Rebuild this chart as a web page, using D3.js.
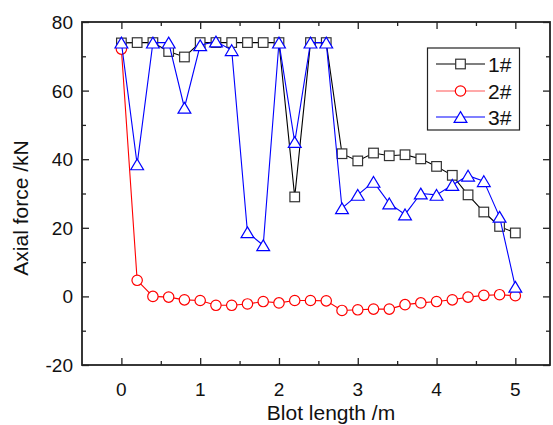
<!DOCTYPE html>
<html><head><meta charset="utf-8">
<script src="https://cdn.jsdelivr.net/npm/d3@7"></script>
<style>body{margin:0;background:#fff}svg{display:block;font-family:"Liberation Sans",Arial,sans-serif}</style>
</head><body><svg id="c" width="553" height="425"></svg>
<script>
const xs = [0,0.2,0.4,0.6,0.8,1.0,1.2,1.4,1.6,1.8,2.0,2.2,2.4,2.6,2.8,3.0,3.2,3.4,3.6,3.8,4.0,4.2,4.4,4.6,4.8,5.0];
const s1 = [73.9,74,74,71.4,69.8,74,74,74,74,74,74,29.0,74,74,41.6,39.5,41.8,41,41.3,40.1,37.9,35.3,29.6,24.6,20.4,18.5];
const s2 = [72.1,4.7,0,-0.2,-1.0,-1.2,-2.6,-2.6,-2.2,-1.5,-1.9,-1.2,-1.2,-1.3,-4.1,-3.9,-3.7,-3.7,-2.4,-1.9,-1.5,-1.0,-0.2,0.3,0.5,0.2];
const s3 = [74,38.5,74,74,55,73.2,74.3,71.8,18.7,14.9,74,45,74,74,25.7,29.6,33.4,27.1,23.9,30.0,29.6,32.5,35.2,33.6,23.2,2.8];
const seriesNames = ["1#","2#","3#"];
const xTicks = [0,1,2,3,4,5];
const yTicks = [-20,0,20,40,60,80];
const xLabel = "Blot length /m";
const yLabel = "Axial force /kN";

const L=82,R=550,T=22,B=365;
const svg=d3.select("#c");
const x=d3.scaleLinear().domain([-0.5,5.44]).range([L,R]);
const y=d3.scaleLinear().domain([-20,80]).range([B,T]);
const axisCol="#222";

function ticks(axisGen, tr, cls){
  const g=svg.append("g").attr("transform",tr).call(axisGen);
  g.select(".domain").remove();
  g.selectAll("line").attr("stroke",axisCol).attr("stroke-width",1.3);
  return g;
}
const xMinor=d3.range(0.5,5.4,1), yMinor=d3.range(-10,80,20);
// bottom
let g=ticks(d3.axisTop(x).tickValues(xTicks).tickSize(7).tickFormat(""),`translate(0,${B})`);
ticks(d3.axisTop(x).tickValues(xMinor).tickSize(4).tickFormat(""),`translate(0,${B})`);
ticks(d3.axisBottom(x).tickValues(xTicks).tickSize(7).tickFormat(""),`translate(0,${T})`);
ticks(d3.axisBottom(x).tickValues(xMinor).tickSize(4).tickFormat(""),`translate(0,${T})`);
ticks(d3.axisRight(y).tickValues(yTicks).tickSize(7).tickFormat(""),`translate(${L},0)`);
ticks(d3.axisRight(y).tickValues(yMinor).tickSize(4).tickFormat(""),`translate(${L},0)`);
ticks(d3.axisLeft(y).tickValues(yTicks).tickSize(7).tickFormat(""),`translate(${R},0)`);
ticks(d3.axisLeft(y).tickValues(yMinor).tickSize(4).tickFormat(""),`translate(${R},0)`);

svg.append("rect").attr("x",L).attr("y",T).attr("width",R-L).attr("height",B-T)
  .attr("fill","none").attr("stroke",axisCol).attr("stroke-width",1.8);

// tick labels
svg.append("g").selectAll("text").data(xTicks).join("text")
  .attr("x",d=>x(d)).attr("y",396).attr("text-anchor","middle")
  .attr("font-size",19).attr("fill","#111").text(d=>d);
svg.append("g").selectAll("text").data(yTicks).join("text")
  .attr("x",73).attr("y",d=>y(d)+7).attr("text-anchor","end")
  .attr("font-size",19).attr("fill","#111").text(d=>d);

svg.append("text").attr("x",331).attr("y",420).attr("text-anchor","middle")
  .attr("font-size",21).attr("fill","#111").text(xLabel);
svg.append("text").attr("transform","translate(28,208) rotate(-90)").attr("text-anchor","middle")
  .attr("font-size",21).attr("fill","#111").text(yLabel);

const cols=["#000000","#ff0000","#0000ff"];
const data=[s1,s2,s3];
const sq=d3.symbol().type(d3.symbolSquare).size(85);
const ci=d3.symbol().type(d3.symbolCircle).size(85);
const tri=d3.symbol().type(d3.symbolTriangle).size(80);
const syms=[sq,ci,tri];
const line=d3.line().x(d=>x(d[0])).y(d=>y(d[1]));

function triPath(cx,cy){ // apex-up triangle about 12.7 wide, 10.7 tall
  const w=6.4,h=5.4;
  return `M${cx},${cy-h}L${cx+w},${cy+h}L${cx-w},${cy+h}Z`;
}
function marker(sel,i,cx,cy){
  if(i===0) sel.append("rect").attr("x",cx-4.8).attr("y",cy-4.8).attr("width",9.6).attr("height",9.6);
  else if(i===1) sel.append("circle").attr("cx",cx).attr("cy",cy).attr("r",5.2);
  else sel.append("path").attr("d",triPath(cx,cy));
}

data.forEach((s,i)=>{
  const pts=xs.map((v,k)=>[v,s[k]]);
  const gg=svg.append("g");
  gg.append("path").datum(pts).attr("d",line).attr("fill","none").attr("stroke",cols[i]).attr("stroke-width",1.1);
  const mg=gg.append("g").attr("fill","#fff").attr("stroke",i===0?"#333":cols[i]).attr("stroke-width",1.2);
  pts.forEach(p=>marker(mg,i,x(p[0]),y(p[1])));
});

// legend
const lg=svg.append("g");
lg.append("rect").attr("x",427.5).attr("y",48).attr("width",92).attr("height",82)
  .attr("fill","#fff").attr("stroke","#222").attr("stroke-width",1.2);
const legCols=["#000000","#ff5555","#0000ff"];
const rows=[64,91,117];
seriesNames.forEach((n,i)=>{
  lg.append("line").attr("x1",436).attr("x2",485).attr("y1",rows[i]).attr("y2",rows[i])
    .attr("stroke",legCols[i]).attr("stroke-width",1.2);
  const mg=lg.append("g").attr("fill","#fff").attr("stroke",i===0?"#333":cols[i]).attr("stroke-width",1.2);
  marker(mg,i,460.5,rows[i]);
  lg.append("text").attr("x",488).attr("y",rows[i]+7.5).attr("font-size",21).attr("fill","#111").text(n);
});
</script></body></html>
